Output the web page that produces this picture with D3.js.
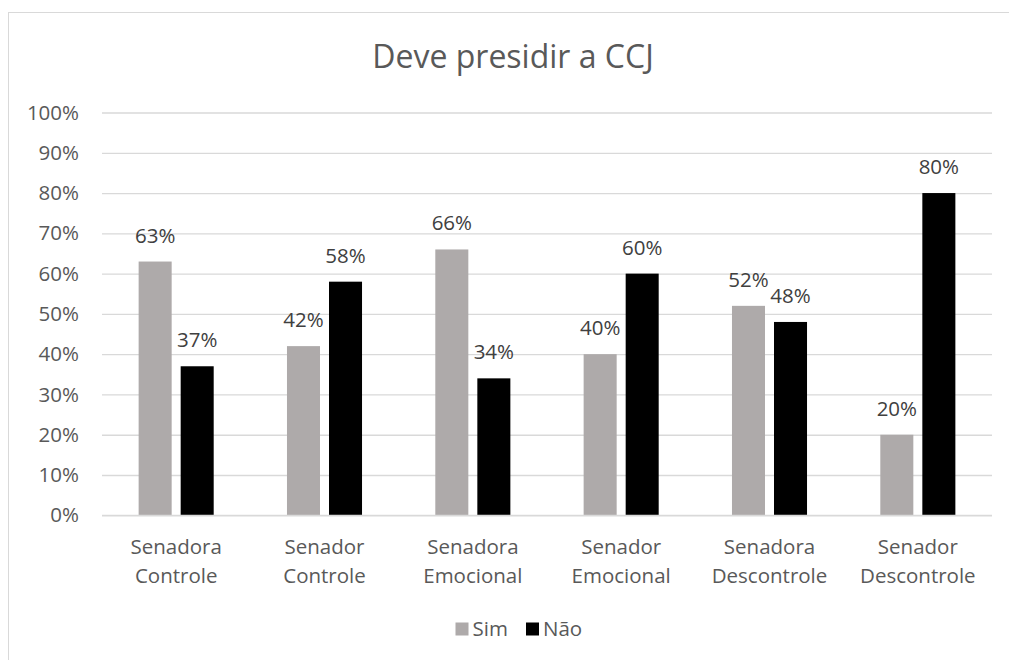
<!DOCTYPE html>
<html>
<head>
<meta charset="utf-8">
<script src="https://cdn.jsdelivr.net/npm/d3@7"></script>
<style>
  html, body { margin: 0; padding: 0; background: #fff; }
  svg { display: block; font-family: "Open Sans", "Noto Sans", sans-serif; }
</style>
</head>
<body>
<svg id="chart" width="1009" height="660"></svg>
<script>
// Chart data
const title = "Deve presidir a CCJ";
const categories = [
  ["Senadora", "Controle"],
  ["Senador", "Controle"],
  ["Senadora", "Emocional"],
  ["Senador", "Emocional"],
  ["Senadora", "Descontrole"],
  ["Senador", "Descontrole"]
];
const seriesNames = ["Sim", "Não"];
const simValues = [0.63, 0.42, 0.66, 0.40, 0.52, 0.20];
const naoValues = [0.37, 0.58, 0.34, 0.60, 0.48, 0.80];
const seriesColors = ["#AEAAAA", "#000000"];
const yTicks = [0, 0.1, 0.2, 0.3, 0.4, 0.5, 0.6, 0.7, 0.8, 0.9, 1.0];

const seriesValues = [simValues, naoValues];
const catKeys = categories.map(c => c.join(" "));
const labelSize = 20.5;

const svg = d3.select("#chart");

// Outer chart frame
svg.append("rect")
  .attr("x", 8.5).attr("y", 12.5)
  .attr("width", 1100).attr("height", 700)
  .attr("fill", "#fff")
  .attr("stroke", "#d9d9d9").attr("stroke-width", 1);

const plot = { left: 102, right: 992, top: 112.5, bottom: 515.3 };

const y = d3.scaleLinear().domain([0, 1]).range([plot.bottom, plot.top]);
const x0 = d3.scaleBand().domain(catKeys)
  .range([plot.left, plot.right])
  .paddingInner(0.494).paddingOuter(0.247);
const x1 = d3.scaleBand().domain(seriesNames)
  .range([0, x0.bandwidth()])
  .paddingInner(0.2143).paddingOuter(0);

// Title
svg.append("text")
  .attr("x", 513).attr("y", 67.5)
  .attr("text-anchor", "middle")
  .attr("font-size", 32)
  .attr("fill", "#595959")
  .text(title);

// Gridlines and y axis labels
const yAxis = d3.axisLeft(y)
  .tickValues(yTicks)
  .tickSize(-(plot.right - plot.left))
  .tickPadding(23)
  .tickFormat(d3.format(".0%"));

const gy = svg.append("g")
  .attr("transform", `translate(${plot.left},0)`)
  .call(yAxis);
gy.select(".domain").remove();
gy.selectAll(".tick line").attr("stroke", "#d9d9d9").attr("stroke-width", 1.3);
gy.selectAll(".tick text")
  .attr("font-size", labelSize)
  .attr("font-family", "\"Open Sans\", \"Noto Sans\", sans-serif")
  .attr("fill", "#595959");

// Bars
const groups = svg.append("g").selectAll("g")
  .data(catKeys)
  .join("g")
  .attr("transform", d => `translate(${x0(d)},0)`);

groups.each(function(cat, ci) {
  const g = d3.select(this);
  seriesNames.forEach((s, si) => {
    const v = seriesValues[si][ci];
    g.append("rect")
      .attr("x", x1(s))
      .attr("y", y(v))
      .attr("width", x1.bandwidth())
      .attr("height", y(0) - y(v))
      .attr("fill", seriesColors[si]);
    g.append("text")
      .attr("x", x1(s) + x1.bandwidth() / 2)
      .attr("y", y(v) - 19)
      .attr("text-anchor", "middle")
      .attr("font-size", labelSize)
      .attr("fill", "#404040")
      .text(d3.format(".0%")(v));
  });
});

// Category axis line
svg.append("line")
  .attr("x1", plot.left).attr("x2", plot.right)
  .attr("y1", y(0)).attr("y2", y(0))
  .attr("stroke", "#d9d9d9").attr("stroke-width", 1.3);

// Category labels (two lines each)
const catLabels = svg.append("g").selectAll("text")
  .data(categories)
  .join("text")
  .attr("text-anchor", "middle")
  .attr("font-size", labelSize)
  .attr("fill", "#595959")
  .attr("transform", (d, i) => `translate(${x0(catKeys[i]) + x0.bandwidth() / 2},0)`);
catLabels.each(function(lines) {
  const t = d3.select(this);
  lines.forEach((line, li) => {
    t.append("tspan").attr("x", 0).attr("y", 554 + li * 29).text(line);
  });
});

// Legend
const legendItems = [
  { name: seriesNames[0], color: seriesColors[0], x: 455.5 },
  { name: seriesNames[1], color: seriesColors[1], x: 526 }
];
const legend = svg.append("g");
legendItems.forEach(item => {
  legend.append("rect")
    .attr("x", item.x).attr("y", 622.5)
    .attr("width", 13).attr("height", 13)
    .attr("fill", item.color);
  legend.append("text")
    .attr("x", item.x + 17).attr("y", 635.5)
    .attr("font-size", labelSize)
    .attr("fill", "#595959")
    .text(item.name);
});
</script>
</body>
</html>
